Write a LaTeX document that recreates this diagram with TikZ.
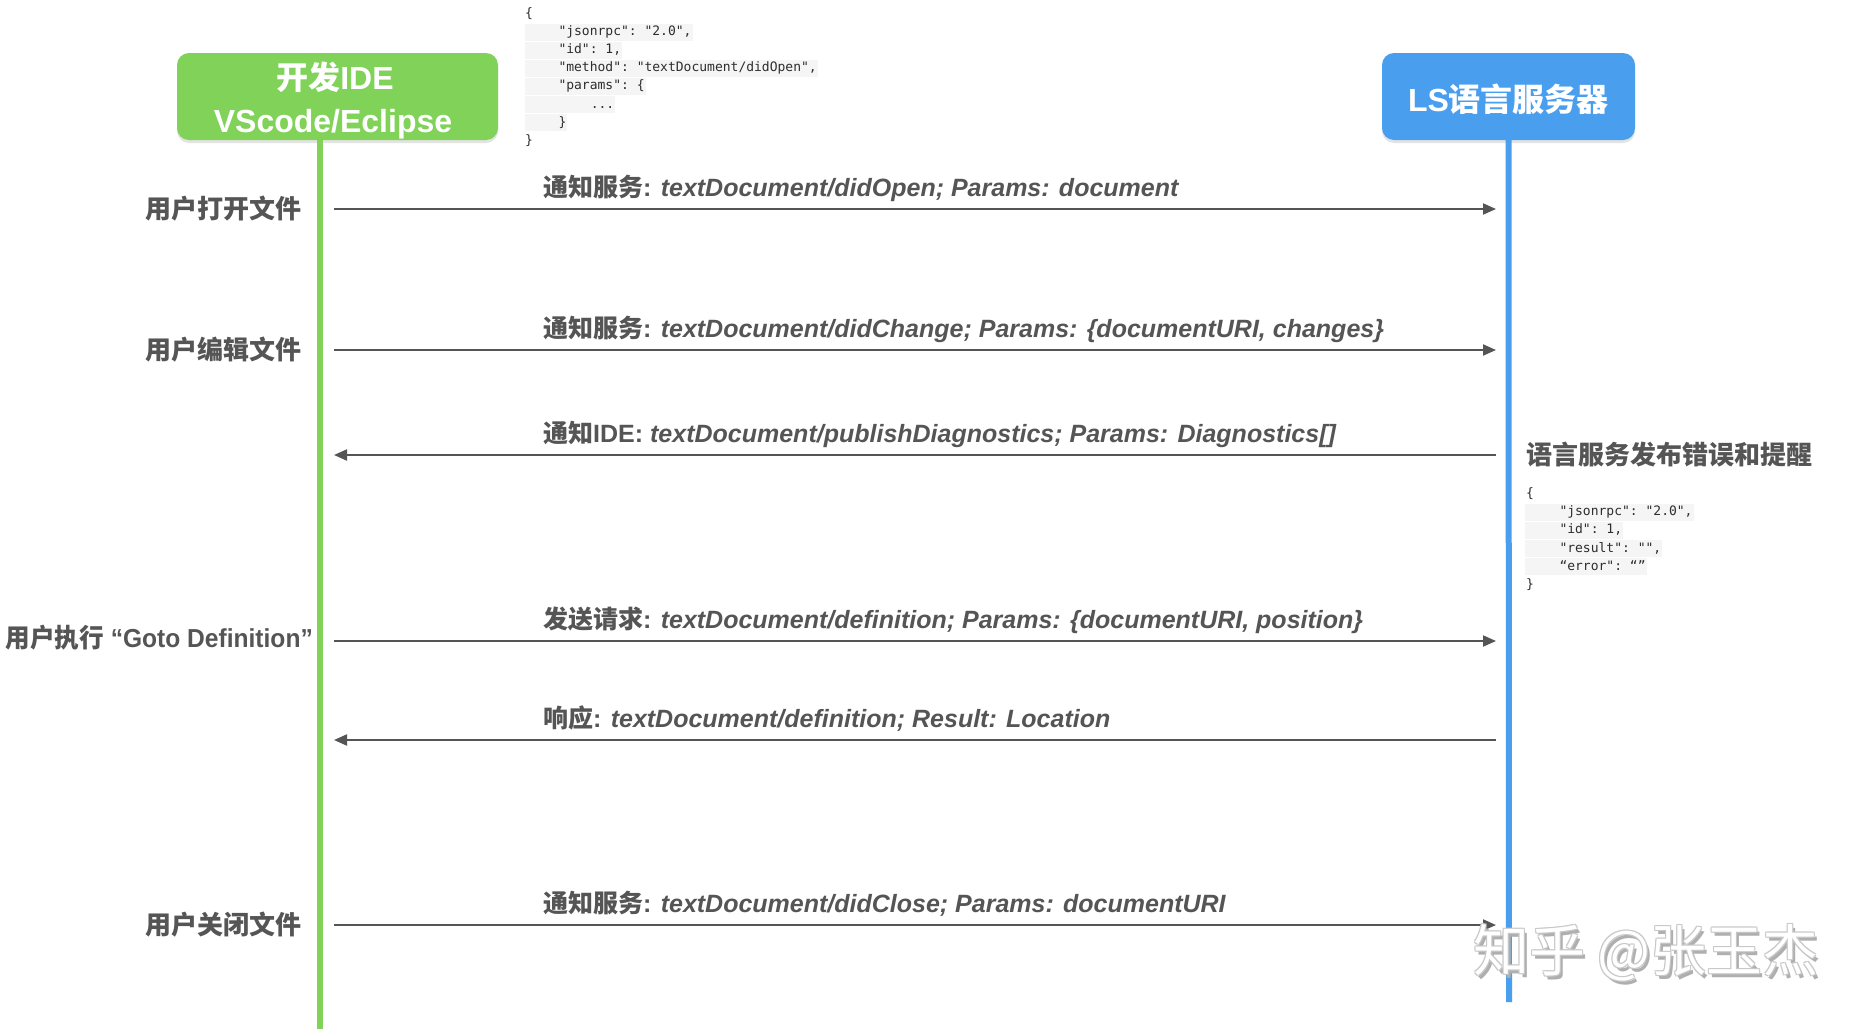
\documentclass[tikz,border=0pt]{standalone}
\usepackage{fontspec}
\setmainfont{Liberation Sans}
\setmonofont{DejaVu Sans Mono}
\newfontfamily\cjk{Noto Sans CJK SC}
\usetikzlibrary{arrows.meta,shadows}
\definecolor{idegreen}{RGB}{128,210,88}
\definecolor{lsblue}{RGB}{74,158,238}
\definecolor{txtgray}{RGB}{85,85,85}
\definecolor{codebg}{RGB}{245,245,245}
\definecolor{codetxt}{RGB}{45,45,45}
\definecolor{wmshadow}{RGB}{175,175,175}
\definecolor{wmline}{RGB}{200,200,200}
\newcommand{\zh}[1]{{\cjk #1}}
\tikzset{
  actorbox/.style={rounded corners=12pt, minimum width=321pt, minimum height=87pt, inner sep=0pt,
    drop shadow={shadow xshift=0pt, shadow yshift=-3pt, opacity=0.22}},
  boxtext/.style={anchor=base, inner sep=0pt, text=white, font=\fontsize{32}{38}\selectfont\bfseries},
  lifeline/.style={line width=6pt},
  msg/.style={draw=txtgray, line width=2pt, -{Triangle[length=13pt,width=11pt]}},
  msglabel/.style={anchor=base west, inner sep=0pt, text=txtgray, font=\fontsize{25}{30}\selectfont\bfseries},
  actlabel/.style={anchor=base east, inner sep=0pt, text=txtgray, font=\fontsize{26}{30}\selectfont\bfseries},
  codeline/.style={anchor=base west, inner xsep=0pt, inner ysep=0pt, text height=12pt, text depth=5pt,
    text=codetxt, font=\fontsize{13}{16}\selectfont\ttfamily},
  codehl/.style={codeline, fill=codebg, inner xsep=1pt},
  wm/.style={anchor=west, inner sep=0pt, font=\fontsize{56}{60}\selectfont\cjk}
}
\begin{document}
\begin{tikzpicture}[x=1pt, y=-1pt]
\useasboundingbox (0,0) rectangle (1872,1029);
\fill[white] (0,0) rectangle (1872,1029);

% actor boxes
\node[actorbox, fill=idegreen] (ide) at (337.5,96.5) {};
\node[boxtext] (ideT1) at (335,89) {\zh{开发}IDE};
\node[boxtext] (ideT2) at (333,132) {VScode/Eclipse};
\node[actorbox, fill=lsblue, minimum width=253pt] (ls) at (1508.5,96.5) {};
\node[boxtext] (lsT) at (1508.5,111) {LS\zh{语言服务器}};

% lifelines
\coordinate (ideTop) at (320,140);
\coordinate (ideBot) at (320,1029);
\coordinate (lsBot) at (1509,1002);
\draw[lifeline, idegreen] (ideTop) -- (ideBot);
\draw[lifeline, lsblue] (ls.south) -- (lsBot);

% top JSON
\node[codeline] (j1) at (525,17.5) {\{};
\node[codehl] (j2) at (525,35.6) {\hspace*{32.3pt}"jsonrpc": "2.0",};
\node[codehl] (j3) at (525,53.7) {\hspace*{32.3pt}"id": 1,};
\node[codehl] (j4) at (525,71.8) {\hspace*{32.3pt}"method": "textDocument/didOpen",};
\node[codehl] (j5) at (525,89.9) {\hspace*{32.3pt}"params": \{};
\node[codehl] (j6) at (525,108.0) {\hspace*{64.6pt}...};
\node[codehl] (j7) at (525,126.1) {\hspace*{32.3pt}\}};
\node[codeline] (j8) at (525,144.2) {\}};

% lifeline anchor points for messages
\coordinate (L1) at (334,209);  \coordinate (R1) at (1496,209);
\coordinate (L2) at (334,350);  \coordinate (R2) at (1496,350);
\coordinate (L3) at (334,455);  \coordinate (R3) at (1496,455);
\coordinate (L4) at (334,641);  \coordinate (R4) at (1496,641);
\coordinate (L5) at (334,740);  \coordinate (R5) at (1496,740);
\coordinate (L6) at (334,925);  \coordinate (R6) at (1496,925);

\draw[msg] (L1) -- (R1);
\draw[msg] (L2) -- (R2);
\draw[msg] (R3) -- (L3);
\draw[msg] (L4) -- (R4);
\draw[msg] (R5) -- (L5);
\draw[msg] (L6) -- (R6);

% message labels
\node[msglabel] (m1) at (543,196) {\zh{通知服务}: \textit{textDocument/didOpen; Params: document}};
\node[msglabel] (m2) at (543,337) {\zh{通知服务}: \textit{textDocument/didChange; Params: \{documentURI, changes\}}};
\node[msglabel] (m3) at (543,442) {\zh{通知}IDE: \textit{textDocument/publishDiagnostics; Params: Diagnostics[]}};
\node[msglabel] (m4) at (543,628) {\zh{发送请求}: \textit{textDocument/definition; Params: \{documentURI, position\}}};
\node[msglabel] (m5) at (543,727) {\zh{响应}: \textit{textDocument/definition; Result: Location}};
\node[msglabel] (m6) at (543,912) {\zh{通知服务}: \textit{textDocument/didClose; Params: documentURI}};

% actions on the IDE side
\node[actlabel] (a1) at (302,218) {\zh{用户打开文件}};
\node[actlabel] (a2) at (302,359) {\zh{用户编辑文件}};
\node[actlabel] (a4) at (313,647) {\scalebox{0.945}[1]{\zh{用户执行} “Goto Definition”}};
\node[actlabel] (a6) at (302,934) {\zh{用户关闭文件}};

% server side note
\node[actlabel, anchor=base west] (s3) at (1526,464) {\zh{语言服务发布错误和提醒}};
\node[codeline] (k1) at (1526,497.5) {\{};
\node[codehl] (k2) at (1525,515.7) {\hspace*{33.3pt}"jsonrpc": "2.0",};
\node[codehl] (k3) at (1525,533.9) {\hspace*{33.3pt}"id": 1,};
\node[codehl] (k4) at (1525,552.1) {\hspace*{33.3pt}"result": "",};
\node[codehl] (k5) at (1525,570.3) {\hspace*{33.3pt}“error": “”};
\node[codeline] (k6) at (1526,588.5) {\}};

% watermark
\node[wm, text=wmshadow] (wms) at (1476,957) {知乎 @张玉杰};
\node[wm, text=wmline] (wma) at (1472,952) {知乎 @张玉杰};
\node[wm, text=wmline] (wmb) at (1474,952) {知乎 @张玉杰};
\node[wm, text=wmline] (wmc) at (1472,954) {知乎 @张玉杰};
\node[wm, text=wmline] (wmd) at (1474,954) {知乎 @张玉杰};
\node[wm, text=white] (wmt) at (1473,953) {知乎 @张玉杰};
\end{tikzpicture}
\end{document}
